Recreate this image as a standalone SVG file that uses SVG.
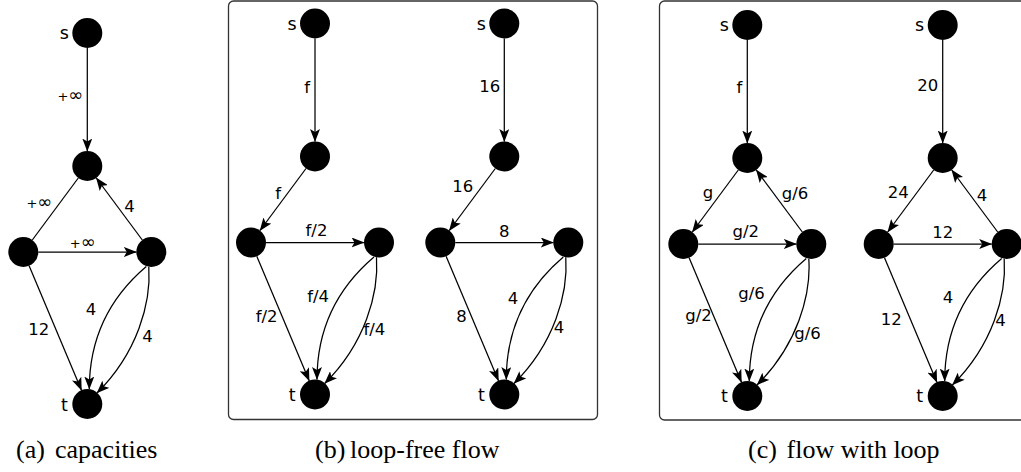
<svg xmlns="http://www.w3.org/2000/svg" width="1021" height="472" viewBox="0 0 1021 472">
<style>
.e{fill:none;stroke:#000;stroke-width:1.25}
.a{marker-end:url(#arr)}
.n{fill:#000}
.l{font-family:'DejaVu Sans',sans-serif;font-size:16.5px;fill:#000}
.nl{font-size:17.5px}
.inf{font-size:13px}
.big{font-size:18px}
.end{text-anchor:end}
.mid{text-anchor:middle}
.cap{font-family:'Liberation Serif',serif;font-size:26px;fill:#000}
.box{fill:none;stroke:#333;stroke-width:1.3}
</style>
<defs>
<marker id="arr" viewBox="0 0 13 10" refX="12.5" refY="5" markerWidth="13" markerHeight="10" markerUnits="userSpaceOnUse" orient="auto"><path d="M0,0 L13,5 L0,10 L3,5 Z" fill="#000"/></marker>
</defs>

<g id="frames">
<rect class="box" x="228.5" y="1" width="369" height="418.5" rx="5"/>
<rect class="box" x="659.5" y="1" width="380" height="419" rx="5"/>
</g>

<!-- (a) capacities -->
<g id="panel-a" transform="translate(87.3,33)">
<g id="a-edges">
<path class="e a" d="M0,15 L0,118"/>
<path class="e" d="M-55,207 L-9,145"/>
<path class="e a" d="M55,207 L9,145"/>
<path class="e a" d="M-49,219 L49,219"/>
<path class="e a" d="M-58.2,232.8 L-5.8,357.2"/>
<path class="e a" d="M59,233.4 C30,258 2,295 2,356"/>
<path class="e a" d="M61.5,233.8 C64,270 50,320 9.7,360"/>
<text class="l inf end" x="-4" y="68">+<tspan class="big">∞</tspan></text>
<text class="l inf end" x="-35" y="175">+<tspan class="big">∞</tspan></text>
<text class="l" x="37" y="179">4</text>
<text class="l inf mid" x="-4.5" y="214.5">+<tspan class="big">∞</tspan></text>
<text class="l end" x="-38" y="302">12</text>
<text class="l end" x="9" y="282">4</text>
<text class="l" x="55" y="309">4</text>
</g>
<g id="a-s"><circle class="n" cx="0" cy="0" r="15"/><text class="l nl end" x="-18.5" y="5.5">s</text></g>
<g id="a-m"><circle class="n" cx="0" cy="133" r="15"/></g>
<g id="a-L"><circle class="n" cx="-64" cy="219" r="15"/></g>
<g id="a-R"><circle class="n" cx="64" cy="219" r="15"/></g>
<g id="a-t"><circle class="n" cx="0" cy="371" r="15"/><text class="l nl end" x="-19.5" y="378">t</text></g>
</g>

<!-- (b) loop-free flow, left -->
<g id="panel-b1" transform="translate(315,23.5)">
<g id="b1-edges">
<path class="e a" d="M0,15 L0,118"/>
<path class="e a" d="M-9,145 L-55,207"/>
<path class="e a" d="M-49,219 L49,219"/>
<path class="e a" d="M-58.2,232.8 L-5.8,357.2"/>
<path class="e a" d="M59,233.4 C30,258 2,295 2,356"/>
<path class="e a" d="M61.5,233.8 C64,270 50,320 9.7,360"/>
<text class="l end" x="-5" y="69">f</text>
<text class="l end" x="-34" y="175">f</text>
<text class="l mid" x="1.5" y="212">f/2</text>
<text class="l end" x="-37.5" y="298">f/2</text>
<text class="l end" x="14" y="278">f/4</text>
<text class="l" x="48.5" y="311">f/4</text>
</g>
<g id="b1-s"><circle class="n" cx="0" cy="0" r="15"/><text class="l nl end" x="-18.5" y="6">s</text></g>
<g id="b1-m"><circle class="n" cx="0" cy="133" r="15"/></g>
<g id="b1-L"><circle class="n" cx="-64" cy="219" r="15"/></g>
<g id="b1-R"><circle class="n" cx="64" cy="219" r="15"/></g>
<g id="b1-t"><circle class="n" cx="0" cy="371" r="15"/><text class="l nl end" x="-19.5" y="377">t</text></g>
</g>

<!-- (b) loop-free flow, right -->
<g id="panel-b2" transform="translate(504.3,23.5)">
<g id="b2-edges">
<path class="e a" d="M0,15 L0,118"/>
<path class="e a" d="M-9,145 L-55,207"/>
<path class="e a" d="M-49,219 L49,219"/>
<path class="e a" d="M-58.2,232.8 L-5.8,357.2"/>
<path class="e a" d="M59,233.4 C30,258 2,295 2,356"/>
<path class="e a" d="M61.5,233.8 C64,270 50,320 9.7,360"/>
<text class="l end" x="-4" y="68">16</text>
<text class="l end" x="-31" y="168">16</text>
<text class="l mid" x="0" y="213">8</text>
<text class="l end" x="-37.5" y="298">8</text>
<text class="l end" x="14" y="280">4</text>
<text class="l" x="49.5" y="309">4</text>
</g>
<g id="b2-s"><circle class="n" cx="0" cy="0" r="15"/><text class="l nl end" x="-18.5" y="6">s</text></g>
<g id="b2-m"><circle class="n" cx="0" cy="133" r="15"/></g>
<g id="b2-L"><circle class="n" cx="-64" cy="219" r="15"/></g>
<g id="b2-R"><circle class="n" cx="64" cy="219" r="15"/></g>
<g id="b2-t"><circle class="n" cx="0" cy="371" r="15"/><text class="l nl end" x="-19.5" y="377">t</text></g>
</g>

<!-- (c) flow with loop, left -->
<g id="panel-c1" transform="translate(747.3,25)">
<g id="c1-edges">
<path class="e a" d="M0,15 L0,118"/>
<path class="e a" d="M-9,145 L-55,207"/>
<path class="e a" d="M55,207 L9,145"/>
<path class="e a" d="M-49,219 L49,219"/>
<path class="e a" d="M-58.2,232.8 L-5.8,357.2"/>
<path class="e a" d="M59,233.4 C30,258 2,295 2,356"/>
<path class="e a" d="M61.5,233.8 C64,270 50,320 9.7,360"/>
<text class="l end" x="-5" y="68">f</text>
<text class="l end" x="-34" y="173">g</text>
<text class="l" x="34.5" y="174">g/6</text>
<text class="l mid" x="-1.5" y="212">g/2</text>
<text class="l end" x="-35.5" y="296">g/2</text>
<text class="l end" x="17.5" y="274">g/6</text>
<text class="l" x="47" y="314">g/6</text>
</g>
<g id="c1-s"><circle class="n" cx="0" cy="0" r="15"/><text class="l nl end" x="-18.5" y="6">s</text></g>
<g id="c1-m"><circle class="n" cx="0" cy="133" r="15"/></g>
<g id="c1-L"><circle class="n" cx="-64" cy="219" r="15"/></g>
<g id="c1-R"><circle class="n" cx="64" cy="219" r="15"/></g>
<g id="c1-t"><circle class="n" cx="0" cy="371" r="15"/><text class="l nl end" x="-19.5" y="377">t</text></g>
</g>

<!-- (c) flow with loop, right -->
<g id="panel-c2" transform="translate(942.7,25)">
<g id="c2-edges">
<path class="e a" d="M0,15 L0,118"/>
<path class="e a" d="M-9,145 L-55,207"/>
<path class="e a" d="M55,207 L9,145"/>
<path class="e a" d="M-49,219 L49,219"/>
<path class="e a" d="M-58.2,232.8 L-5.8,357.2"/>
<path class="e a" d="M59,233.4 C30,258 2,295 2,356"/>
<path class="e a" d="M61.5,233.8 C64,270 50,320 9.7,360"/>
<text class="l end" x="-4.5" y="66">20</text>
<text class="l end" x="-34" y="173">24</text>
<text class="l" x="34" y="176">4</text>
<text class="l mid" x="0" y="213">12</text>
<text class="l end" x="-41" y="300">12</text>
<text class="l end" x="10.5" y="278">4</text>
<text class="l" x="52.5" y="301">4</text>
</g>
<g id="c2-s"><circle class="n" cx="0" cy="0" r="15"/><text class="l nl end" x="-18.5" y="6">s</text></g>
<g id="c2-m"><circle class="n" cx="0" cy="133" r="15"/></g>
<g id="c2-L"><circle class="n" cx="-64" cy="219" r="15"/></g>
<g id="c2-R"><circle class="n" cx="64" cy="219" r="15"/></g>
<g id="c2-t"><circle class="n" cx="0" cy="371" r="15"/><text class="l nl end" x="-19.5" y="377">t</text></g>
</g>

<g id="captions" font-family="Liberation Serif, serif">
<text class="cap" x="16" y="458">(a)</text><text class="cap" x="55" y="458">capacities</text>
<text class="cap" x="315" y="458">(b)</text><text class="cap" x="350" y="458">loop-free flow</text>
<text class="cap" x="748" y="458">(c)</text><text class="cap" x="786.5" y="458">flow with loop</text>
</g>
</svg>
